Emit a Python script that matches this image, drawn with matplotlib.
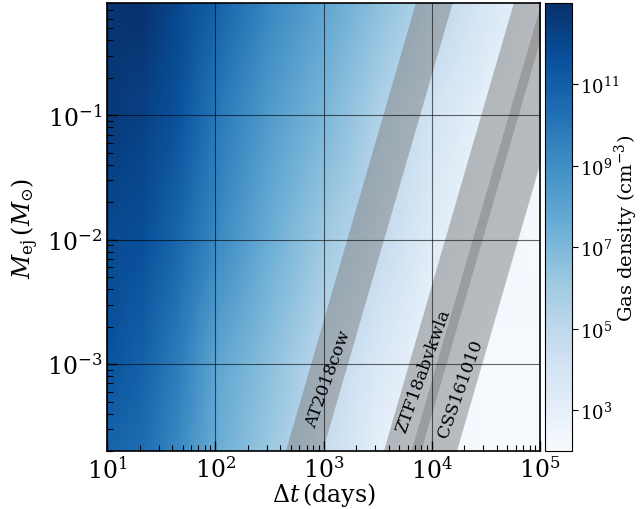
import matplotlib
matplotlib.use("Agg")
import matplotlib.pyplot as plt
import numpy as np
from matplotlib.colors import LogNorm

plt.rcParams['font.family'] = 'DejaVu Serif'
plt.rcParams['mathtext.fontset'] = 'dejavuserif'

# log10 of time since explosion (days) and ejecta mass (Msun) at the table nodes
log_t = [1.0, 1.33, 1.67, 2.0, 2.5, 3.0, 3.5, 4.0, 4.5, 5.0]
log_m = [-3.7, -3.0, -2.0, -1.0, 0.0]

# log10 gas density (cm^-3), one row per mass
log_n = [
    [10.8, 10.4, 9.2, 7.6, 6.2, 4.7, 3.0, 2.3, 2.1, 2.05],
    [11.5, 10.9, 9.7, 8.0, 6.6, 5.0, 3.6, 2.6, 2.1, 2.05],
    [11.9, 11.7, 10.6, 9.3, 7.5, 6.1, 4.8, 3.3, 2.4, 2.1],
    [12.6, 12.3, 11.5, 10.0, 8.4, 7.1, 5.6, 4.0, 2.9, 2.3],
    [12.8, 13.0, 12.0, 11.1, 9.4, 8.1, 6.7, 5.3, 3.9, 2.6],
]

# shaded bands: log10 of the band edges in days at M = 1e-4 and M = 1 Msun
band_names = ['AT2018cow', 'ZTF18abvkwla', 'CSS161010']
band_left_lo = [2.547, 3.452, 3.707]
band_left_hi = [3.880, 4.785, 5.040]
band_right_lo = [2.887, 3.797, 4.127]
band_right_hi = [4.220, 5.130, 5.460]
band_m = [1e-4, 1.0]

# label anchors (days, Msun)
label_t = [1.1e3, 8.3e3, 1.85e4]
label_m = [7.6e-4, 8.9e-4, 6.4e-4]

fig = plt.figure(figsize=(6.44, 5.1), dpi=100)
ax = fig.add_axes([107 / 644, 58 / 510, 433 / 644, 448 / 510])
cax = fig.add_axes([545 / 644, 58 / 510, 27 / 644, 448 / 510])

T, M = np.meshgrid(10 ** np.array(log_t), 10 ** np.array(log_m))
N = 10 ** np.array(log_n)
mesh = ax.pcolormesh(T, M, N, cmap='Blues', norm=LogNorm(vmin=1e2, vmax=1e13),
                     shading='gouraud', rasterized=True)

for i in range(len(band_names)):
    left = [10 ** band_left_lo[i], 10 ** band_left_hi[i]]
    right = [10 ** band_right_lo[i], 10 ** band_right_hi[i]]
    ax.fill_betweenx(band_m, left, right, color='gray', alpha=0.5, lw=0, zorder=2)
    ax.text(label_t[i], label_m[i], band_names[i], rotation=70, fontsize=12.5,
            ha='center', va='center', zorder=4)

ax.set_xscale('log')
ax.set_yscale('log')
ax.set_xlim(1e1, 1e5)
ax.set_ylim(2e-4, 0.8)
ax.grid(True, which='major', color='k', lw=0.8, alpha=0.6, zorder=3)
ax.set_axisbelow(False)

ax.tick_params(which='both', direction='in', top=False, right=False, labelsize=17)
ax.tick_params(which='major', length=7, width=1)
ax.tick_params(which='minor', length=4, width=0.8)
for sp in ax.spines.values():
    sp.set_linewidth(1.2)

ax.set_xlabel(r'$\Delta t\,$(days)', fontsize=17, labelpad=-2)
ax.set_ylabel(r'$M_{\rm ej}\,(M_{\odot})$', fontsize=17, labelpad=4)

cb = fig.colorbar(mesh, cax=cax, ticks=[1e3, 1e5, 1e7, 1e9, 1e11])
cax.minorticks_off()
cax.tick_params(labelsize=13, length=4, pad=2)
cb.set_label('Gas density (cm$^{-3}$)', fontsize=14, rotation=90, va='center', ha='center')
cax.yaxis.set_label_coords(3.0, 0.5)

fig.savefig('out.png', dpi=100)
